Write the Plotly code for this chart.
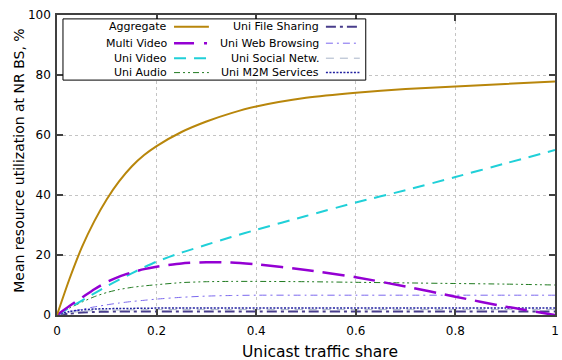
import plotly.graph_objects as go

# Unicast traffic share (x) and mean resource utilization, % (y)
share = [0, 0.025, 0.05, 0.075, 0.1, 0.125, 0.15, 0.175, 0.2, 0.25, 0.3, 0.35, 0.4,
         0.5, 0.6, 0.7, 0.8, 0.9, 1.0]

aggregate = [0, 12.0, 22.6, 31.3, 38.6, 44.6, 49.5, 53.3, 56.3, 61.0, 64.5, 67.3, 69.5,
             72.4, 74.1, 75.3, 76.2, 77.0, 77.8]
multi_video = [0, 3.0, 5.8, 8.6, 11.0, 12.8, 14.2, 15.3, 16.1, 17.2, 17.6, 17.5, 16.9,
               15.0, 12.6, 9.5, 6.1, 2.8, 0.0]
uni_video = [0, 2.4, 4.8, 7.2, 9.6, 11.8, 13.9, 15.9, 17.8, 20.8, 23.4, 26.0, 28.4,
             33.0, 37.5, 41.6, 46.0, 50.5, 55.0]
uni_audio = [0, 2.3, 4.3, 6.1, 7.5, 8.5, 9.2, 9.7, 10.1, 10.8, 11.1, 11.2, 11.2,
             11.1, 10.9, 10.7, 10.5, 10.3, 10.0]
uni_file = [0, 0.5, 0.8, 1.0, 1.1, 1.15, 1.2, 1.2, 1.2, 1.2, 1.2, 1.2, 1.2,
            1.2, 1.2, 1.2, 1.2, 1.2, 1.2]
uni_web = [0, 1.0, 1.9, 2.7, 3.4, 4.0, 4.5, 4.9, 5.3, 5.9, 6.3, 6.5, 6.6,
           6.6, 6.6, 6.6, 6.6, 6.6, 6.6]
uni_social = [0, 0.8, 1.2, 1.5, 1.6, 1.65, 1.7, 1.75, 1.8, 1.8, 1.8, 1.8, 1.8,
              1.8, 1.8, 1.8, 1.8, 1.8, 1.8]
uni_m2m = [0, 1.2, 1.7, 2.0, 2.1, 2.15, 2.2, 2.25, 2.3, 2.3, 2.3, 2.3, 2.3,
           2.3, 2.3, 2.3, 2.3, 2.3, 2.3]

x_ticks = [0, 0.2, 0.4, 0.6, 0.8, 1]
x_tick_text = ["0", "0.2", "0.4", "0.6", "0.8", "1"]
y_ticks = [0, 20, 40, 60, 80, 100]

FONT = "DejaVu Sans"

series = [
    # name, values, color, width, dash, legend column, legend row
    ("Aggregate", aggregate, "#b8860b", 2, "solid", 0, 0),
    ("Multi Video", multi_video, "#9400d3", 2.5, "22px,9px", 0, 1),
    ("Uni Video", uni_video, "#20d0d8", 2, "12px,8px", 0, 2),
    ("Uni Audio", uni_audio, "#1f7a1f", 1, "6px,3px,2px,3px,2px,3px", 0, 3),
    ("Uni File Sharing", uni_file, "#483d8b", 2, "10px,4px,3px,4px", 1, 0),
    ("Uni Web Browsing", uni_web, "#7b68ee", 1, "7px,4px,2px,4px", 1, 1),
    ("Uni Social Netw.", uni_social, "#a8b4c8", 1, "8px,6px", 1, 2),
    ("Uni M2M Services", uni_m2m, "#2020a0", 1.5, "2px,1.5px", 1, 3),
]

fig = go.Figure()
draw_order = [4, 5, 6, 7, 3, 2, 1, 0]
for i in draw_order:
    name, vals, color, width, dash, _, _ = series[i]
    fig.add_trace(go.Scatter(
        x=share, y=vals, mode="lines", name=name,
        line=dict(color=color, width=width, dash=dash, shape="spline", smoothing=0.6),
        showlegend=False,
    ))

# Boxed key in the upper-left corner: right-aligned text followed by a line sample
col_text_x = [0.225, 0.530]
col_sample_x = [(0.235, 0.305), (0.540, 0.608)]
row_y = [0.961, 0.906, 0.856, 0.808]
legend_dash = {"Multi Video": "20px,10px,3px,10px"}
shapes = [dict(type="rect", xref="paper", yref="paper", x0=0.012, x1=0.620, y0=0.783, y1=0.987,
               line=dict(color="#000000", width=1), fillcolor="white", layer="above")]
annotations = []
for name, vals, color, width, dash, col, row in series:
    x0, x1 = col_sample_x[col]
    shapes.append(dict(type="line", xref="paper", yref="paper", x0=x0, x1=x1,
                       y0=row_y[row], y1=row_y[row], layer="above",
                       line=dict(color=color, width=width, dash=legend_dash.get(name, dash))))
    annotations.append(dict(xref="paper", yref="paper", x=col_text_x[col], y=row_y[row],
                            text=name, showarrow=False, xanchor="right", yanchor="middle",
                            font=dict(family=FONT, size=11, color="#000000")))

# Axis titles
annotations.append(dict(xref="paper", yref="paper", x=0.528, y=-0.123, text="Unicast traffic share",
                        showarrow=False, xanchor="center", yanchor="middle",
                        font=dict(family=FONT, size=15.5, color="#000000")))
annotations.append(dict(xref="paper", yref="paper", x=-0.0777, y=0.515,
                        text="Mean resource utilization at NR BS, %", textangle=-90,
                        showarrow=False, xanchor="center", yanchor="middle",
                        font=dict(family=FONT, size=14, color="#000000")))

axis_common = dict(
    showline=True, linecolor="#404040", linewidth=1.5, mirror="ticks",
    ticks="inside", ticklen=6, tickcolor="#404040", tickwidth=1.5,
    showgrid=True, gridcolor="#c4c4c4", griddash="dot", gridwidth=1,
    zeroline=False, tickfont=dict(family=FONT, size=12, color="#000000"),
)

fig.update_layout(
    width=562, height=360,
    margin=dict(l=57, r=3, t=15, b=45),
    paper_bgcolor="white", plot_bgcolor="white",
    shapes=shapes, annotations=annotations,
    xaxis=dict(range=[0, 1], tickvals=x_ticks, ticktext=x_tick_text,
               ticklabelstandoff=4, **axis_common),
    yaxis=dict(range=[0, 100], tickvals=y_ticks, ticklabelstandoff=2, **axis_common),
)

fig.write_html("out.html")
